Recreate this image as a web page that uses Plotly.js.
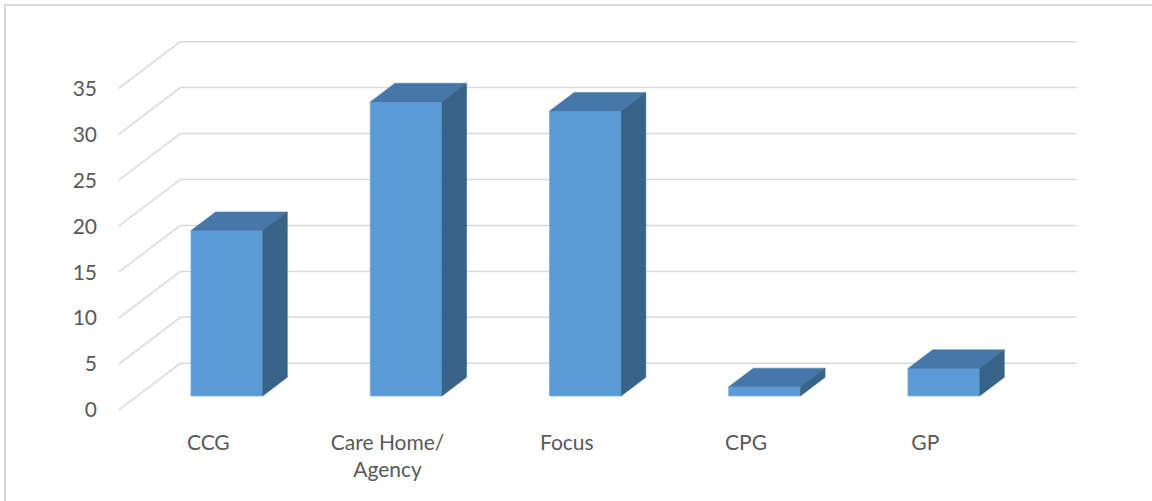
<!DOCTYPE html>
<html>
<head>
<meta charset="utf-8">
<script src="https://cdn.plot.ly/plotly-3.0.1.min.js"></script>
<style>
  html, body { margin: 0; padding: 0; background: #ffffff; }
  #wrap { position: relative; width: 1152px; height: 501px; overflow: hidden; }
  #chart { position: absolute; left: 0; top: 0; width: 1152px; height: 501px; }
  #frame { position: absolute; left: 4px; top: 4px; width: 1300px; height: 700px;
           border-left: 2px solid #D9D9D9; border-top: 2px solid #D9D9D9; pointer-events: none; }
</style>
</head>
<body>
<div id="wrap">
  <div id="chart"></div>
  <div id="frame"></div>
</div>
<script>
// ---- data ----
const categories = ['CCG', 'Care Home/<br>Agency', 'Focus', 'CPG', 'GP'];
const values = [18, 32, 31, 1, 3];
const yTickValues = [0, 5, 10, 15, 20, 25, 30, 35];

// ---- 3D projection constants (styling) ----
const DX = 0.3442;   // floor depth, x data units
const DY = 5.08;     // floor depth, y data units
const F0 = 0.3, F1 = 0.7;   // bar depth span (fraction of floor depth)
const BAR_W = 0.4;
const FLOOR_L = -0.5, FLOOR_R = 4.5;

const xPos = categories.map((c, i) => i);

// gridlines as shapes below traces
const gridColor = '#D9D9D9';
const shapes = [];
yTickValues.forEach(v => {
  shapes.push({ type: 'line', xref: 'x', yref: 'y', layer: 'below',
    x0: FLOOR_L, y0: v, x1: FLOOR_L + DX, y1: v + DY,
    line: { color: gridColor, width: 1.5 } });
  shapes.push({ type: 'line', xref: 'x', yref: 'y', layer: 'below',
    x0: FLOOR_L + DX, y0: v + DY, x1: FLOOR_R + DX, y1: v + DY,
    line: { color: gridColor, width: 1.5 } });
});

// front faces
const frontTrace = {
  type: 'bar',
  x: xPos.map(x => x + F0 * DX),
  y: values,
  base: values.map(() => F0 * DY),
  width: BAR_W,
  marker: { color: '#5B9BD5', line: { color: '#7AAEDD', width: 0.8 } },
  hoverinfo: 'skip',
  showlegend: false
};

// top & side faces
const tx = [], ty = [], sx = [], sy = [];
const ddx = (F1 - F0) * DX, ddy = (F1 - F0) * DY;
xPos.forEach((c, i) => {
  const xl = c - BAR_W / 2 + F0 * DX;
  const xr = c + BAR_W / 2 + F0 * DX;
  const y0 = F0 * DY;
  const yt = values[i] + F0 * DY;
  tx.push(xl, xr, xr + ddx, xl + ddx, xl, null);
  ty.push(yt, yt, yt + ddy, yt + ddy, yt, null);
  sx.push(xr, xr, xr + ddx, xr + ddx, xr, null);
  sy.push(y0, yt, yt + ddy, y0 + ddy, y0, null);
});
const topTrace = { type: 'scatter', mode: 'lines', x: tx, y: ty, fill: 'toself',
  fillcolor: '#4677A8', line: { color: '#4677A8', width: 0.5 }, hoverinfo: 'skip', showlegend: false };
const sideTrace = { type: 'scatter', mode: 'lines', x: sx, y: sy, fill: 'toself',
  fillcolor: '#386389', line: { color: '#386389', width: 0.5 }, hoverinfo: 'skip', showlegend: false };

const W = 1152, H = 501;
const ML = 100, MR = 52, MT = 20, MB = 91;
const pxPerCat = 179.25, cat0px = 208.3;
const layout = {
  width: W, height: H,
  margin: { l: ML, r: MR, t: MT, b: MB, pad: 0 },
  paper_bgcolor: 'rgba(0,0,0,0)',
  plot_bgcolor: 'rgba(0,0,0,0)',
  font: { family: 'Lato, Carlito, Calibri, sans-serif', size: 21, color: '#595959' },
  showlegend: false,
  xaxis: {
    range: [(ML - cat0px) / pxPerCat, (W - MR - cat0px) / pxPerCat],
    tickvals: xPos, ticktext: categories,
    showgrid: false, zeroline: false, showline: false, ticks: '',
    ticklabelstandoff: 18, fixedrange: true
  },
  yaxis: {
    range: [0, (H - MT - MB) / 9.19],
    tickvals: yTickValues, ticktext: yTickValues.map(String),
    showgrid: false, zeroline: false, showline: false, ticks: '',
    ticklabelstandoff: 2, fixedrange: true
  },
  shapes: shapes,
  bargap: 0
};

Plotly.newPlot('chart', [frontTrace, topTrace, sideTrace], layout, { displayModeBar: false, staticPlot: true });
</script>
</body>
</html>
